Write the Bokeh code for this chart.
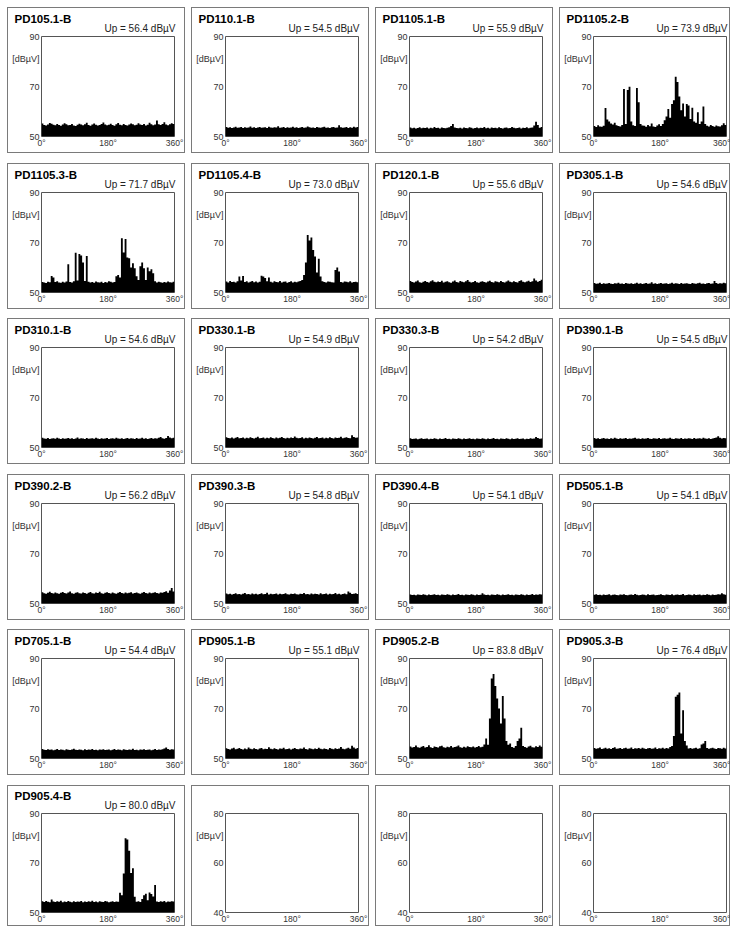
from bokeh.plotting import figure
from bokeh.layouts import column, row
from bokeh.models import Range1d, FixedTicker, Title
from bokeh.embed import file_html
from bokeh.resources import INLINE

FONT = "Liberation Sans"

# ---------------- data ----------------
panel_names = [
    "PD105.1-B", "PD110.1-B", "PD1105.1-B", "PD1105.2-B",
    "PD1105.3-B", "PD1105.4-B", "PD120.1-B", "PD305.1-B",
    "PD310.1-B", "PD330.1-B", "PD330.3-B", "PD390.1-B",
    "PD390.2-B", "PD390.3-B", "PD390.4-B", "PD505.1-B",
    "PD705.1-B", "PD905.1-B", "PD905.2-B", "PD905.3-B",
    "PD905.4-B",
]
up_levels = [
    56.4, 54.5, 55.9, 73.9,
    71.7, 73.0, 55.6, 54.6,
    54.6, 54.9, 54.2, 54.5,
    56.2, 54.8, 54.1, 54.1,
    54.4, 55.1, 83.8, 76.4,
    80.0,
]

x_ticks = [0, 180, 360]
x_tick_labels = ["0°", "180°", "360°"]
y_ticks = [50, 70, 90]
y_unit_pos = 81
empty_y_ticks = [40, 60, 80]
empty_unit_pos = 71
unit_label = "[dBµV]"

pd105_1 = [55.2,54.6,54.4,54.8,55.4,55.1,54.7,54.5,55.0,54.6,54.3,54.8,55.3,54.9,54.5,54.6,55.0,54.4,54.2,54.7,55.1,54.8,54.5,54.9,55.5,54.6,54.3,54.8,55.2,54.7,54.4,54.6,55.0,55.6,54.8,54.5,54.7,55.1,54.6,54.3,54.9,55.4,54.7,54.5,55.0,54.6,54.4,54.8,55.2,54.9,54.5,54.7,55.3,54.8,54.6,55.0,54.4,54.7,55.5,54.9,54.5,54.8,56.4,54.9,54.6,55.0,55.7,54.8,54.5,54.9,55.3,55.0]
pd110_1 = [53.8,53.5,53.7,53.4,53.6,53.9,53.5,53.6,53.8,53.4,53.7,53.5,53.6,54.0,53.5,53.7,53.4,53.6,53.8,53.5,53.6,53.7,53.4,53.9,53.6,53.5,53.7,53.6,54.1,53.5,53.6,53.8,53.4,53.7,53.5,53.6,53.9,53.5,53.7,53.4,53.6,53.8,53.5,53.6,54.0,53.7,53.5,53.6,53.4,53.8,53.6,53.5,53.7,53.9,53.5,53.6,53.4,53.7,53.8,53.5,53.6,54.5,53.7,53.5,53.6,53.8,53.4,53.7,53.5,53.9,53.6,53.8]
pd1105_1 = [53.6,53.3,53.5,53.2,53.4,53.7,53.3,53.5,53.4,53.6,53.2,53.5,53.3,53.8,53.4,53.5,53.2,53.6,53.4,53.3,53.5,53.7,54.2,55.0,53.6,53.4,53.3,53.5,53.2,53.6,53.4,53.3,53.7,53.5,53.2,53.4,53.6,53.3,53.5,53.4,53.8,53.3,53.5,53.2,53.6,53.4,53.5,53.3,53.7,53.4,53.2,53.5,53.6,53.3,53.4,53.8,53.5,53.3,53.4,53.6,53.2,53.5,53.4,53.7,53.3,53.5,53.6,54.4,55.9,54.6,53.5,53.8]
pd1105_2 = [54.2,53.8,54.5,54.0,53.9,54.3,61.4,56.8,56.0,55.2,54.8,55.5,54.5,54.2,54.0,54.6,69.0,55.0,68.6,69.9,56.0,54.5,54.2,69.4,63.7,55.0,54.4,54.3,53.9,54.6,54.1,55.2,54.0,53.8,54.4,54.9,54.2,55.0,56.5,58.0,61.0,57.5,63.0,64.5,73.9,71.8,66.0,60.5,63.2,58.0,63.0,62.4,57.0,61.5,56.0,55.5,59.7,55.0,56.0,62.0,55.0,54.3,54.0,54.6,54.2,53.9,54.4,54.1,54.0,54.5,55.3,54.6]
pd1105_3 = [54.2,54.0,53.8,54.3,54.1,56.6,56.0,54.2,54.5,54.0,53.9,54.3,54.0,54.4,61.3,54.2,54.0,54.5,65.9,54.8,65.4,64.8,62.0,54.6,64.6,54.3,54.0,54.2,53.9,54.4,54.1,54.0,54.3,53.8,54.2,54.0,54.5,54.3,54.0,54.2,56.5,57.0,56.0,71.7,66.0,71.4,64.0,63.7,60.0,61.7,59.7,56.5,55.0,60.5,62.0,59.7,55.0,60.0,58.5,59.3,57.7,54.5,54.0,54.3,54.1,53.9,54.2,54.0,54.4,54.1,54.0,54.3]
pd1105_4 = [54.4,54.0,54.6,54.2,54.3,54.0,54.5,56.4,54.8,56.6,54.2,54.5,54.0,54.3,54.6,54.1,54.4,54.0,54.3,56.7,56.4,55.8,54.5,56.0,54.3,54.0,54.5,54.2,54.1,54.6,54.0,54.3,54.4,53.9,54.2,54.5,54.0,54.3,54.1,54.4,54.6,55.0,57.0,62.0,73.0,70.8,72.0,67.0,64.4,58.0,63.5,56.4,54.5,54.2,54.0,54.4,54.3,54.1,54.0,59.0,60.0,58.4,54.2,54.0,54.4,54.3,54.1,54.5,54.0,54.2,54.3,54.1]
pd120_1 = [54.6,54.2,54.0,54.4,54.8,54.1,53.9,54.3,54.6,54.2,54.0,54.5,54.9,54.3,54.1,54.4,54.2,54.7,54.0,54.3,54.5,54.1,53.9,54.4,54.8,54.2,54.0,54.6,54.3,54.1,54.5,55.0,54.3,54.0,54.2,54.6,54.1,53.9,54.3,54.5,54.2,54.0,54.4,54.7,54.2,54.0,54.5,54.3,54.1,54.6,54.2,54.0,54.4,54.8,54.3,54.1,54.5,54.2,54.0,54.6,54.9,54.3,54.1,54.4,54.7,54.2,54.5,55.6,54.8,54.3,54.6,55.1]
pd305_1 = [53.8,53.5,53.6,53.9,53.4,53.7,53.5,53.6,53.8,53.5,53.4,53.7,53.6,53.9,53.5,53.6,53.4,53.8,53.6,53.5,53.7,53.4,53.6,53.9,53.5,53.7,53.4,53.6,53.8,53.5,53.6,54.1,53.5,53.7,53.4,53.6,53.8,53.5,53.6,53.7,53.4,53.6,53.9,53.5,53.7,53.6,53.4,53.8,53.5,53.6,53.7,53.5,53.4,53.8,53.6,53.5,53.7,53.9,53.5,53.6,53.4,53.7,53.8,53.5,53.6,54.6,53.8,53.5,53.7,53.6,53.9,53.7]
pd310_1 = [53.9,53.6,53.5,53.8,53.4,53.6,53.7,53.5,53.9,53.6,53.4,53.7,53.5,53.6,53.8,53.5,53.7,53.4,53.6,54.0,53.5,53.7,53.6,53.4,53.8,53.5,53.6,53.7,53.5,53.9,53.6,53.4,53.7,53.5,53.6,53.8,53.4,53.6,53.7,53.5,53.9,53.6,53.5,53.7,53.4,53.6,53.8,53.5,53.7,53.6,53.4,53.8,53.5,53.6,53.9,53.5,53.7,53.4,53.6,53.8,53.5,53.7,53.6,53.9,54.2,53.7,53.5,53.8,54.6,54.0,53.7,53.9]
pd330_1 = [54.1,53.8,53.7,54.0,53.6,53.9,54.2,53.7,53.8,54.0,53.6,53.9,53.7,54.1,53.8,53.6,53.9,54.3,53.7,53.8,54.0,53.6,53.9,53.7,54.1,53.8,53.6,54.0,53.7,53.9,54.2,53.8,53.6,53.9,53.7,54.0,53.8,54.4,53.9,53.7,53.8,54.1,53.6,53.9,53.7,54.0,53.8,53.6,53.9,54.2,53.7,53.8,54.0,53.6,53.9,53.7,54.1,53.8,53.6,54.0,53.8,53.9,54.3,53.7,53.9,54.1,53.8,53.7,54.9,54.2,53.9,54.0]
pd330_3 = [53.7,53.4,53.5,53.6,53.3,53.5,53.7,53.4,53.5,53.6,53.3,53.5,53.4,53.7,53.5,53.3,53.6,53.4,53.5,53.8,53.4,53.5,53.3,53.6,53.5,53.4,53.7,53.5,53.3,53.6,53.4,53.5,53.7,53.4,53.5,53.3,53.6,53.5,53.4,53.7,53.5,53.3,53.6,53.4,53.5,53.8,53.4,53.5,53.3,53.6,53.5,53.4,53.7,53.5,53.3,53.6,53.4,53.5,53.7,53.4,53.5,53.6,53.3,53.5,53.4,53.7,53.5,53.6,54.2,53.8,53.5,53.6]
pd390_1 = [53.8,53.5,53.7,53.4,53.6,53.8,53.5,53.6,53.4,53.7,53.5,53.9,53.6,53.4,53.7,53.5,53.6,53.8,53.4,53.6,53.5,53.7,53.9,53.5,53.6,53.4,53.7,53.5,53.6,53.8,53.5,53.4,53.7,53.6,53.5,53.8,53.4,53.6,53.7,53.5,53.6,53.9,53.5,53.4,53.7,53.6,53.5,53.8,53.4,53.6,53.5,53.7,53.6,53.4,53.8,53.5,53.6,53.7,53.5,53.9,53.6,53.5,53.7,53.4,53.6,53.8,54.0,54.5,53.9,53.6,53.8,53.7]
pd390_2 = [54.5,54.1,53.9,54.3,54.7,54.2,54.0,54.4,54.1,53.9,54.3,54.6,54.2,54.0,54.4,54.8,54.1,53.9,54.3,54.5,54.1,54.0,54.4,54.2,53.9,54.3,54.6,54.1,54.0,54.4,54.2,54.7,54.1,53.9,54.3,54.5,54.2,54.0,54.4,54.1,53.9,54.3,54.6,54.2,54.0,54.4,54.1,54.3,54.5,54.0,54.2,54.4,54.1,53.9,54.3,54.6,54.2,54.0,54.4,54.1,54.3,54.5,54.2,54.0,54.4,54.3,54.6,54.9,54.3,55.2,56.2,54.8]
pd390_3 = [54.0,53.7,53.9,53.6,53.8,54.1,53.7,53.8,53.6,53.9,54.2,53.7,53.8,53.6,54.0,53.7,53.9,53.6,53.8,54.1,53.7,53.8,54.3,53.6,53.9,53.7,53.8,54.0,53.6,53.9,53.7,53.8,54.1,53.7,53.6,53.9,53.8,54.0,53.7,53.6,53.9,53.8,54.2,53.7,53.8,53.6,54.0,53.7,53.9,53.8,53.6,54.1,53.7,53.8,54.0,53.6,53.9,53.7,53.8,54.2,53.7,53.9,53.6,53.8,54.0,53.7,54.8,54.3,53.8,53.9,54.1,53.8]
pd390_4 = [53.6,53.4,53.5,53.3,53.6,53.5,53.4,53.7,53.5,53.3,53.6,53.4,53.5,53.7,53.4,53.5,53.3,53.6,53.5,53.4,53.7,53.5,53.3,53.6,53.4,53.5,53.8,53.4,53.5,53.3,53.6,53.5,53.4,53.7,53.5,53.3,53.6,53.4,53.5,54.1,53.6,53.4,53.5,53.3,53.6,53.5,53.4,53.7,53.5,53.3,53.6,53.4,53.5,53.7,53.4,53.5,53.3,53.6,53.5,53.4,53.7,53.5,53.3,53.6,53.4,53.5,53.8,53.4,53.6,53.5,53.7,53.6]
pd505_1 = [53.5,53.7,53.4,53.5,53.3,53.6,53.4,53.5,53.7,53.3,53.5,53.6,53.4,53.3,53.6,53.5,53.7,53.4,53.3,53.5,53.6,53.4,53.8,53.5,53.3,53.4,53.6,53.5,53.3,53.7,53.4,53.5,53.6,53.3,53.4,53.5,53.7,53.4,53.3,53.6,53.5,53.4,53.7,53.3,53.5,53.6,53.4,53.5,53.8,53.3,53.4,53.6,53.5,53.3,53.7,53.4,53.5,53.6,53.3,53.5,53.4,53.7,53.5,53.3,53.6,53.4,53.5,53.7,53.6,54.1,53.7,53.5]
pd705_1 = [53.8,53.5,53.4,53.7,53.5,53.6,53.3,53.5,53.8,53.4,53.6,53.5,53.3,53.7,53.5,53.4,53.6,53.9,53.5,53.4,53.6,53.5,53.3,53.7,53.4,53.6,53.5,53.8,53.4,53.5,53.3,53.6,53.5,53.7,53.4,53.5,53.6,53.3,53.5,53.8,53.4,53.6,53.5,53.3,53.7,53.5,53.4,53.6,53.5,53.9,53.4,53.5,53.3,53.6,53.5,53.7,53.4,53.5,53.6,53.3,53.5,53.8,53.4,53.6,53.5,53.7,54.0,54.4,53.8,53.5,53.7,53.6]
pd905_1 = [54.1,53.8,53.6,54.0,54.3,53.7,53.9,54.2,53.8,53.6,54.0,53.7,54.4,53.9,53.7,54.1,53.8,53.6,54.0,54.2,53.7,53.9,53.8,54.5,53.9,53.7,54.1,53.8,53.6,54.0,53.9,54.3,53.7,53.8,54.0,53.6,53.9,54.2,53.8,53.7,54.0,53.9,54.4,53.8,53.6,54.1,53.9,53.7,54.0,53.8,54.3,53.9,53.7,54.0,53.8,53.6,54.2,53.9,53.7,54.1,53.8,54.0,54.6,53.9,53.7,54.0,54.3,53.9,55.1,54.4,53.9,54.2]
pd905_2 = [54.8,54.4,54.6,55.2,54.5,54.3,54.7,55.0,54.4,54.6,55.3,54.5,54.2,54.8,54.6,54.4,54.9,55.1,54.5,54.3,54.7,54.5,55.0,54.4,54.6,54.8,55.2,54.5,54.3,54.7,54.4,54.9,54.6,54.5,54.8,54.4,54.6,55.0,54.5,54.7,55.6,58.0,55.5,66.0,82.0,83.8,79.0,74.0,70.0,64.0,75.0,66.0,57.0,55.5,56.0,54.6,54.3,55.0,57.0,58.0,62.3,55.0,54.6,54.3,54.8,55.1,54.5,54.4,54.9,54.6,55.2,54.7]
pd905_3 = [54.2,53.9,54.1,54.4,53.8,54.0,54.3,53.9,54.1,53.8,54.2,54.5,53.9,54.0,54.2,53.8,54.1,54.3,53.9,54.0,54.4,53.8,54.1,54.0,54.2,53.9,54.3,54.0,53.8,54.1,54.2,53.9,54.0,54.4,53.8,54.1,54.0,54.3,53.9,54.2,54.0,54.6,55.0,59.0,74.7,75.5,76.4,60.0,69.3,57.0,55.2,54.0,54.2,53.9,54.1,54.3,53.9,54.1,55.6,56.0,57.0,54.2,53.9,54.1,54.3,54.0,53.8,54.2,54.1,53.9,54.3,54.0]
pd905_4 = [54.5,54.2,54.6,54.3,54.1,55.3,54.4,54.2,54.5,54.3,54.7,54.1,54.4,54.2,54.6,54.3,54.1,54.5,54.2,54.4,54.3,54.6,54.1,54.4,54.2,54.5,54.3,54.7,54.2,54.4,54.1,54.5,54.3,54.2,54.6,54.4,54.1,54.3,54.5,54.2,54.4,54.3,58.0,57.0,65.8,80.0,79.5,74.9,66.0,67.9,56.4,54.3,54.5,54.2,55.5,57.0,57.6,55.0,58.1,57.5,56.5,61.1,54.4,54.2,54.5,54.3,54.6,54.1,54.4,54.3,54.5,54.4]

series = [
    pd105_1, pd110_1, pd1105_1, pd1105_2,
    pd1105_3, pd1105_4, pd120_1, pd305_1,
    pd310_1, pd330_1, pd330_3, pd390_1,
    pd390_2, pd390_3, pd390_4, pd505_1,
    pd705_1, pd905_1, pd905_2, pd905_3,
    pd905_4,
]

# ---------------- layout ----------------
N_COLS = 4
N_ROWS = 6
FRAME_W = 133


def make_panel(col, last_row, name=None, up=None, vals=None):
    right = 11 if col < 3 else 4
    width = 34 + FRAME_W + right
    if last_row:
        top, bottom, height = 28, 13, 141
    else:
        top, bottom, height = 29, 17, 146

    if vals is not None:
        y_lo, y_hi = y_ticks[0], y_ticks[-1]
        ticks = y_ticks + [y_unit_pos]
        unit_at = y_unit_pos
    else:
        y_lo, y_hi = empty_y_ticks[0], empty_y_ticks[-1]
        ticks = empty_y_ticks + [empty_unit_pos]
        unit_at = empty_unit_pos

    p = figure(width=width, height=height,
               x_range=Range1d(x_ticks[0], x_ticks[-1]),
               y_range=Range1d(y_lo, y_hi),
               output_backend="svg", toolbar_location=None,
               min_border_left=34, min_border_right=right,
               min_border_top=top, min_border_bottom=bottom)
    p.border_fill_color = None
    p.background_fill_color = "white"
    p.outline_line_color = "#555555"
    p.outline_line_width = 1
    p.grid.visible = False
    p.styles = {"outline": "1px solid #7a7a7a", "outline-offset": "-1px"}

    for ax in (p.xaxis[0], p.yaxis[0]):
        ax.axis_line_color = None
        ax.major_tick_line_color = None
        ax.minor_tick_line_color = None
        ax.major_tick_out = 0
        ax.major_tick_in = 0
        ax.minor_tick_out = 0
        ax.major_label_text_font = FONT
        ax.major_label_text_color = "#333333"

    p.xaxis.ticker = FixedTicker(ticks=x_ticks)
    p.xaxis.major_label_overrides = {t: l for t, l in zip(x_ticks, x_tick_labels)}
    p.xaxis.major_label_text_font_size = "8.5px"
    p.xaxis.major_label_standoff = 1

    p.yaxis.ticker = FixedTicker(ticks=ticks)
    p.yaxis.major_label_overrides = {unit_at: unit_label}
    p.yaxis.major_label_text_font_size = "9px"
    p.yaxis.major_label_standoff = 2

    if vals is not None:
        n = len(vals)
        step = (x_ticks[-1] - x_ticks[0]) / n
        edges = [x_ticks[0] + i * step for i in range(n + 1)]
        tops = list(vals) + [vals[-1]]
        p.varea_step(x=edges, y1=[y_lo] * (n + 1), y2=tops,
                     step_mode="after", fill_color="black", fill_alpha=1.0)

        # nearest the frame: the "Up" level, right aligned
        p.add_layout(Title(text=f"Up = {up:.1f} dBµV", align="right", offset=-1,
                           standoff=6, text_font=FONT, text_font_size="10px",
                           text_font_style="normal", text_color="#222222"), "above")
        # above it: the panel name, bold, pulled down over the Up line
        p.add_layout(Title(text=name, align="left", offset=-27,
                           standoff=-14, text_font=FONT, text_font_size="11.5px",
                           text_font_style="bold", text_color="black"), "above")
    return p


rows = []
k = 0
for r in range(N_ROWS):
    figs = []
    for c in range(N_COLS):
        last = (r == N_ROWS - 1)
        if k < len(series):
            figs.append(make_panel(c, last, panel_names[k], up_levels[k], series[k]))
        else:
            figs.append(make_panel(c, last))
        k += 1
    extra = 1 if r in (0, 2, 4) else 0
    rows.append(row(*figs, spacing=6, margin=(0, 0, extra, 0)))

layout = column(*rows, spacing=9, margin=(7, 0, 0, 7))

open("out.html", "w").write(file_html(layout, INLINE))
